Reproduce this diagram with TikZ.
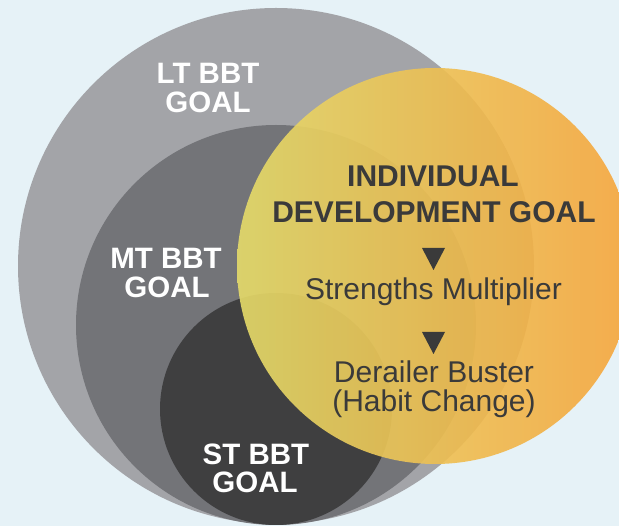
\documentclass[tikz,border=0pt]{standalone}
\usepackage{fontspec}
\setmainfont{Liberation Sans}
\definecolor{bgc}{HTML}{E6F2F7}
\definecolor{ltc}{HTML}{A3A4A8}
\definecolor{mtc}{HTML}{737478}
\definecolor{stc}{HTML}{3F3F40}
\definecolor{ylw}{HTML}{E6DC6A}
\definecolor{mid}{HTML}{EEBF50}
\definecolor{org}{HTML}{F6A43A}
\definecolor{txtc}{HTML}{3A3A3A}
\tikzset{
  wlbl/.style={text=white, font=\bfseries\fontsize{29.5}{30}\selectfont, inner sep=0pt, anchor=base},
  dbold/.style={text=txtc, font=\bfseries\fontsize{30}{30}\selectfont, inner sep=0pt, anchor=base},
  dreg/.style={text=txtc, font=\fontsize{30}{30}\selectfont, inner sep=0pt, anchor=base},
  tri/.style={fill=txtc}
}
\begin{document}
\begin{tikzpicture}[x=1pt,y=-1pt]
\useasboundingbox (0,0) rectangle (619,526);
\fill[bgc] (0,0) rectangle (619,526);
\begin{scope}
\clip (0,0) rectangle (619,526);
\fill[ltc] (276,266) circle[radius=258pt];
\fill[mtc] (276,325) circle[radius=200pt];
\fill[stc] (276,409) circle[radius=116pt];
\shade[left color=ylw, middle color=mid, right color=org, fill opacity=0.9] (435,266) circle[radius=198pt];
\end{scope}
% gray labels
\node[wlbl] (lt1) at (208,84) {LT BBT};
\node[wlbl] (lt2) at (208,113) {GOAL};
\node[wlbl] (mt1) at (166,269) {MT BBT};
\node[wlbl] (mt2) at (167,298) {GOAL};
\node[wlbl] (st1) at (256,465) {ST BBT};
\node[wlbl] (st2) at (255,493) {GOAL};
% orange labels
\node[dbold] (id1) at (433,187) {INDIVIDUAL};
\node[dbold] (id2) at (434,223) {DEVELOPMENT GOAL};
\fill[tri] (422,248) -- (445,248) -- (433.5,270) -- cycle;
\node[dreg] (sm) at (433.5,300) {Strengths Multiplier};
\fill[tri] (422,332) -- (445,332) -- (433.5,354) -- cycle;
\node[dreg] (db) at (434,383) {Derailer Buster};
\node[dreg] (hc) at (434,412) {(Habit Change)};
\end{tikzpicture}
\end{document}
